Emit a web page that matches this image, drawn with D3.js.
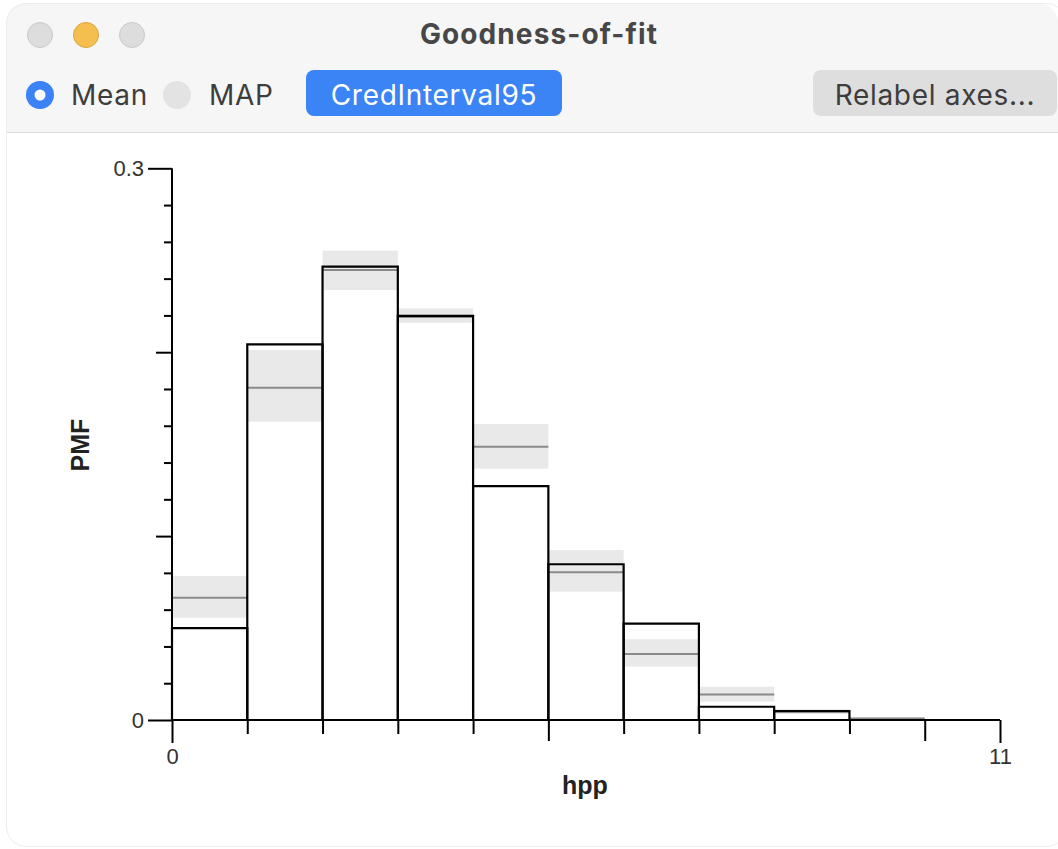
<!DOCTYPE html>
<html>
<head>
<meta charset="utf-8">
<script src="https://cdn.jsdelivr.net/npm/d3@7"></script>
<style>
  html, body { margin: 0; padding: 0; background: #ffffff; }
  svg { display: block; }
</style>
</head>
<body>
<svg id="win" width="1058" height="849"></svg>
<script>
// Histogram bins of hpp (bin i covers [i, i+1))
const bins = [0, 1, 2, 3, 4, 5, 6, 7, 8, 9, 10];
// Observed PMF
const observed = [0.0500, 0.2043, 0.2465, 0.2197, 0.1272, 0.0847, 0.0524, 0.0072, 0.0049, 0, 0];
// Posterior predictive mean
const meanPMF = [0.0665, 0.1807, 0.2447, 0.2191, 0.1486, 0.0803, 0.0359, 0.0138, 0.0044, 0.0008, 0];
// 95% credible interval bounds
const ciLow = [0.0556, 0.1622, 0.2338, 0.2160, 0.1367, 0.0698, 0.0290, 0.0100, 0.0032, 0.0002, 0];
const ciHigh = [0.0783, 0.2012, 0.2552, 0.2239, 0.1610, 0.0924, 0.0439, 0.0181, 0.0058, 0.0016, 0];

const yMinorTicks = d3.range(1, 15).map(i => i * 0.02).filter(v => Math.abs(v - 0.1) > 1e-9 && Math.abs(v - 0.2) > 1e-9);
const yMidTicks = [0.1, 0.2];
const yMajorTicks = [0, 0.3];
const xMinorTicks = [1, 2, 3, 4, 6, 7, 8, 9];
const xMidTicks = [5, 10];
const xMajorTicks = [0, 11];

const svg = d3.select("#win");
const uiFont = "Inter, 'Open Sans', sans-serif";
const chartFont = "'Liberation Sans', Arial, sans-serif";

// ---- window chrome ----
const clipId = "winclip";
svg.append("defs").append("clipPath").attr("id", clipId)
  .append("rect").attr("x", 6).attr("y", 3).attr("width", 1052).attr("height", 844).attr("rx", 20);

const chrome = svg.append("g").attr("clip-path", `url(#${clipId})`);
chrome.append("rect").attr("x", 6).attr("y", 3).attr("width", 1052).attr("height", 844).attr("fill", "#ffffff");
chrome.append("rect").attr("x", 6).attr("y", 3).attr("width", 1052).attr("height", 129).attr("fill", "#f6f6f6");
chrome.append("line").attr("x1", 6).attr("x2", 1058).attr("y1", 132.5).attr("y2", 132.5)
  .attr("stroke", "#dcdcdc").attr("stroke-width", 1);
svg.append("rect").attr("x", 6.5).attr("y", 3.5).attr("width", 1060).attr("height", 843).attr("rx", 20)
  .attr("fill", "none").attr("stroke", "#ececec").attr("stroke-width", 1);

// traffic lights
const lights = [
  {cx: 40, fill: "#dddddd", stroke: "#c9c9c9"},
  {cx: 86, fill: "#f5bf4f", stroke: "#dba43e"},
  {cx: 132, fill: "#dddddd", stroke: "#c9c9c9"}
];
svg.selectAll("circle.light").data(lights).join("circle")
  .attr("class", "light").attr("cx", d => d.cx).attr("cy", 35).attr("r", 12.5)
  .attr("fill", d => d.fill).attr("stroke", d => d.stroke).attr("stroke-width", 1);

svg.append("text").attr("x", 539).attr("y", 44).attr("text-anchor", "middle")
  .attr("font-family", uiFont).attr("font-weight", 700).attr("font-size", 28)
  .attr("letter-spacing", 1.1).attr("fill", "#474747").text("Goodness-of-fit");

// radio buttons
const labelStyle = t => t.attr("font-family", uiFont).attr("font-size", 28)
  .attr("letter-spacing", 0.7).attr("fill", "#3d3d3d");
svg.append("circle").attr("cx", 40).attr("cy", 95).attr("r", 14).attr("fill", "#3b82f6");
svg.append("circle").attr("cx", 40).attr("cy", 95).attr("r", 5.5).attr("fill", "#ffffff");
svg.append("text").attr("x", 71).attr("y", 105).call(labelStyle).text("Mean");
svg.append("circle").attr("cx", 177).attr("cy", 95).attr("r", 14).attr("fill", "#e3e3e3");
svg.append("text").attr("x", 209).attr("y", 105).call(labelStyle).text("MAP");

// buttons
svg.append("rect").attr("x", 306).attr("y", 70).attr("width", 256).attr("height", 46).attr("rx", 8)
  .attr("fill", "#3b84f6");
svg.append("text").attr("x", 434).attr("y", 105).attr("text-anchor", "middle")
  .call(labelStyle).attr("fill", "#ffffff").text("CredInterval95");
svg.append("rect").attr("x", 813).attr("y", 70).attr("width", 244).attr("height", 46).attr("rx", 8)
  .attr("fill", "#dedede");
svg.append("text").attr("x", 935).attr("y", 105).attr("text-anchor", "middle")
  .call(labelStyle).text("Relabel axes...");

// ---- chart ----
const x = d3.scaleLinear().domain([0, 11]).range([172, 1000]);
const y = d3.scaleLinear().domain([0, 0.3]).range([720, 168.3]);

const plot = svg.append("g");

// credible interval bands
plot.selectAll("rect.band").data(bins.filter(i => ciHigh[i] > 0)).join("rect")
  .attr("class", "band")
  .attr("x", i => x(i)).attr("width", i => x(i + 1) - x(i))
  .attr("y", i => y(ciHigh[i])).attr("height", i => y(ciLow[i]) - y(ciHigh[i]))
  .attr("fill", "#e9e9e9");

// posterior mean lines
plot.selectAll("line.mean").data(bins.filter(i => meanPMF[i] > 0)).join("line")
  .attr("class", "mean")
  .attr("x1", i => x(i)).attr("x2", i => x(i + 1))
  .attr("y1", i => y(meanPMF[i])).attr("y2", i => y(meanPMF[i]))
  .attr("stroke", "#8a8a8a").attr("stroke-width", 2);

// observed histogram
plot.selectAll("path.bar").data(bins.filter(i => observed[i] > 0)).join("path")
  .attr("class", "bar")
  .attr("d", i => `M${x(i)},${y(0)}V${y(observed[i])}H${x(i + 1)}V${y(0)}`)
  .attr("fill", "none").attr("stroke", "#000").attr("stroke-width", 2.2);

// axes
const axisStyle = g => {
  g.select(".domain").remove();
  g.selectAll("line").attr("stroke", "#000").attr("stroke-width", 2);
  g.selectAll("text").attr("font-family", chartFont).attr("font-size", 22).attr("fill", "#333");
};

plot.append("g").attr("transform", `translate(${x(0)},0)`)
  .call(d3.axisLeft(y).tickValues(yMinorTicks).tickSize(8).tickFormat(""))
  .call(axisStyle);
plot.append("g").attr("transform", `translate(${x(0)},0)`)
  .call(d3.axisLeft(y).tickValues(yMidTicks).tickSize(16).tickFormat(""))
  .call(axisStyle);
plot.append("g").attr("transform", `translate(${x(0)},0)`)
  .call(d3.axisLeft(y).tickValues(yMajorTicks).tickSize(24).tickPadding(4).tickFormat(d3.format("")))
  .call(axisStyle);

plot.append("g").attr("transform", `translate(0,${y(0)})`)
  .call(d3.axisBottom(x).tickValues(xMinorTicks).tickSize(14).tickFormat(""))
  .call(axisStyle);
plot.append("g").attr("transform", `translate(0,${y(0)})`)
  .call(d3.axisBottom(x).tickValues(xMidTicks).tickSize(21).tickFormat(""))
  .call(axisStyle);
plot.append("g").attr("transform", `translate(0,${y(0)})`)
  .call(d3.axisBottom(x).tickValues(xMajorTicks).tickSize(23).tickPadding(5).tickFormat(d3.format("d")))
  .call(axisStyle);

// axis lines
plot.append("line").attr("x1", x(0)).attr("x2", x(0)).attr("y1", y(0.3)).attr("y2", y(0))
  .attr("stroke", "#000").attr("stroke-width", 2);
plot.append("line").attr("x1", x(0)).attr("x2", x(11)).attr("y1", y(0)).attr("y2", y(0))
  .attr("stroke", "#000").attr("stroke-width", 2);

// axis titles
svg.append("text").attr("transform", "translate(89,445) rotate(-90)").attr("text-anchor", "middle")
  .attr("font-family", chartFont).attr("font-weight", 700).attr("font-size", 25)
  .attr("fill", "#222").text("PMF");
svg.append("text").attr("x", 585).attr("y", 794).attr("text-anchor", "middle")
  .attr("font-family", chartFont).attr("font-weight", 700).attr("font-size", 25)
  .attr("fill", "#222").text("hpp");
</script>
</body>
</html>
